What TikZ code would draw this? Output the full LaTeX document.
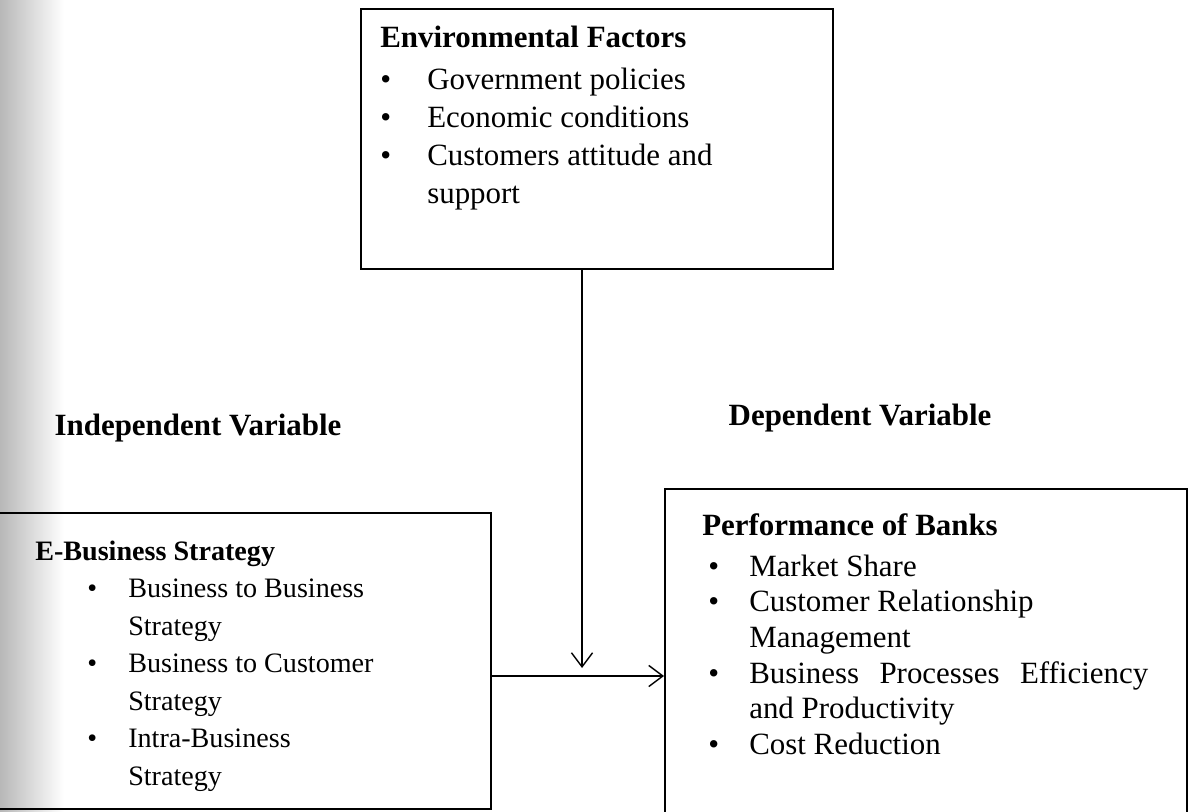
\documentclass[tikz,border=0pt]{standalone}
\usepackage{fontspec}
\setmainfont{Liberation Serif}
\usetikzlibrary{positioning,arrows.meta}

\tikzset{
  frame/.style={draw, line width=1.2pt, inner sep=0pt, anchor=north west},
  itemtext/.style={inner sep=0pt, anchor=north west},
  varlabel/.style={font=\bfseries\fontsize{22}{26}\selectfont},
  flow/.style={line width=1pt, -{Straight Barb[length=10pt,width=15pt]}}
}

\begin{document}
\begin{tikzpicture}
    \useasboundingbox (0,0) rectangle (29.725,-20.3);
    % shadow down the left edge of the page
    \shade[left color=black!28, right color=white] (0,0) rectangle (1.6,-20.3);

    % moderating variable
    \node[frame, minimum width=11.8cm, minimum height=6.5cm] (env) at (9,-0.2) {};
    \node[itemtext, font=\fontsize{22}{27}\selectfont, below right=0.31cm and 0.5cm of env.north west] (envlist) {%
      \begin{tabular}{@{}p{1.175cm}@{}l@{}}
        \multicolumn{2}{@{}l@{}}{\textbf{Environmental Factors}}\\[3pt]
        \textbullet & Government policies\\
        \textbullet & Economic conditions\\
        \textbullet & Customers attitude and\\
                    & support
      \end{tabular}};

    \node[varlabel] (indep) at (4.95,-10.7) {Independent Variable};
    \node[varlabel] (dep) at (21.5,-10.45) {Dependent Variable};

    % independent variable
    \node[frame, minimum width=12.75cm, minimum height=7.4cm] (ebs) at (-0.5,-12.8) {};
    \node[itemtext, font=\fontsize{20}{26.7}\selectfont, below right=0.54cm and 1.375cm of ebs.north west] (ebslist) {%
      \begin{tabular}{@{\hspace{1.3cm}}p{1.025cm}@{}l@{}}
        \multicolumn{2}{@{}l@{}}{\textbf{E-Business Strategy}}\\
        \textbullet & Business to Business\\
                    & Strategy\\
        \textbullet & Business to Customer\\
                    & Strategy\\
        \textbullet & Intra-Business\\
                    & Strategy
      \end{tabular}};

    % dependent variable
    \node[frame, minimum width=13.05cm, minimum height=8.6cm] (perf) at (16.6,-12.2) {};
    \node[itemtext, font=\fontsize{22}{25.3}\selectfont, below right=0.55cm and 0.95cm of perf.north west] (perflist) {%
      \begin{tabular}{@{\hspace{0.15cm}}p{1.025cm}@{}l@{}}
        \multicolumn{2}{@{}l@{}}{\textbf{Performance of Banks}}\\[4pt]
        \textbullet & Market Share\\
        \textbullet & Customer Relationship\\
                    & Management\\
        \textbullet & \makebox[9.975cm][s]{Business Processes Efficiency}\\
                    & and Productivity\\
        \textbullet & Cost Reduction
      \end{tabular}};

    % arrows
    \coordinate (meet) at (14.55,-16.7);
    \coordinate (join) at (0,-16.9);
    \draw[flow] (env.south -| meet) -- (meet);
    \draw[flow] (ebs.east |- join) -- (perf.west |- join);
\end{tikzpicture}
\end{document}
